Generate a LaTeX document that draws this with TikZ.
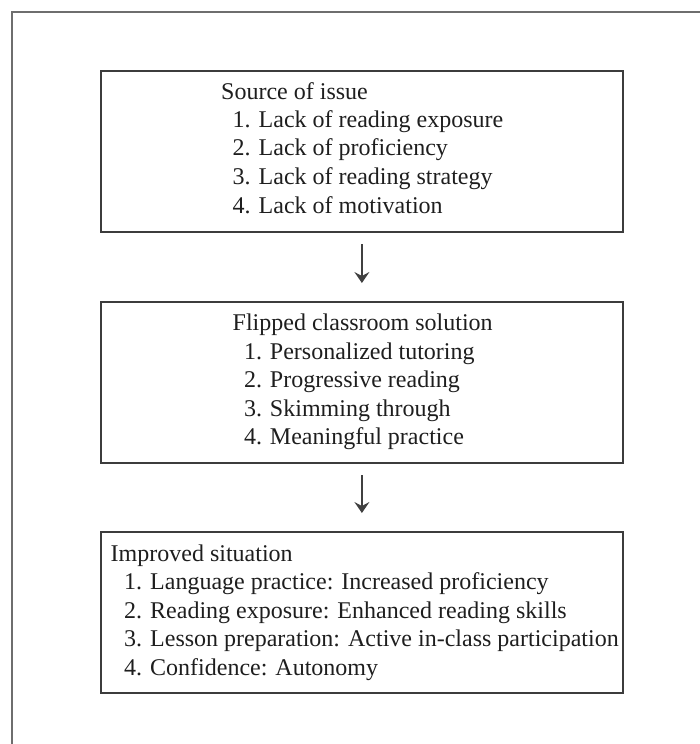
\documentclass[tikz,border=0pt]{standalone}
\usepackage{fontspec}
\setmainfont{Liberation Serif}
\usetikzlibrary{arrows.meta}

\definecolor{framegray}{HTML}{6E6E6E}
\definecolor{boxgray}{HTML}{3C3C3C}
\definecolor{inkcol}{HTML}{1E1E1E}

\begin{document}
\begin{tikzpicture}[x=1pt,y=-1pt,
  stagebox/.style={draw=boxgray, line width=1.8pt, inner sep=0pt,
    minimum width=522pt, minimum height=161pt, anchor=north west},
  txt/.style={inner sep=0pt, anchor=base west, text=inkcol,
    font=\fontsize{24pt}{28.6pt}\selectfont},
  flow/.style={draw=black!75, line width=1.3pt,
    -{Stealth[length=11pt,width=15pt,inset=4pt]},
    shorten <=11.5pt, shorten >=18pt}]

\useasboundingbox (0,0) rectangle (700,744);

% outer frame (open to the right and bottom edges)
\draw[framegray, line width=2.2pt] (12.3,744) -- (12.3,12.3) -- (700,12.3);

% the three stages
\node[stagebox] (b1) at (100,70) {};
\node[stagebox] (b2) at (100,301) {};
\node[stagebox] (b3) at (100,531) {};

% stage 1
\node[txt] (h1) at (221,99)    {Source of issue};
\node[txt] (s11) at (232.5,127.3) {1. Lack of reading exposure};
\node[txt] (s12) at (232.5,155.9) {2. Lack of proficiency};
\node[txt] (s13) at (232.5,184.5) {3. Lack of reading strategy};
\node[txt] (s14) at (232.5,213.1) {4. Lack of motivation};

% stage 2
\node[txt] (h2) at (232.5,330.5) {Flipped classroom solution};
\node[txt] (s21) at (243.8,359.1) {1. Personalized tutoring};
\node[txt] (s22) at (243.8,387.7) {2. Progressive reading};
\node[txt] (s23) at (243.8,416.3) {3. Skimming through};
\node[txt] (s24) at (243.8,444.9) {4. Meaningful practice};

% stage 3
\node[txt] (h3) at (110.5,561)  {Improved situation};
\node[txt] (s31) at (124,589.6) {1. Language practice: Increased proficiency};
\node[txt] (s32) at (124,618.2) {2. Reading exposure: Enhanced reading skills};
\node[txt] (s33) at (124,646.8) {3. Lesson preparation: Active in-class participation};
\node[txt] (s34) at (124,675.4) {4. Confidence: Autonomy};

% connectors
\draw[flow] (b1.south) -- (b2.north);
\draw[flow] (b2.south) -- (b3.north);

\end{tikzpicture}
\end{document}
